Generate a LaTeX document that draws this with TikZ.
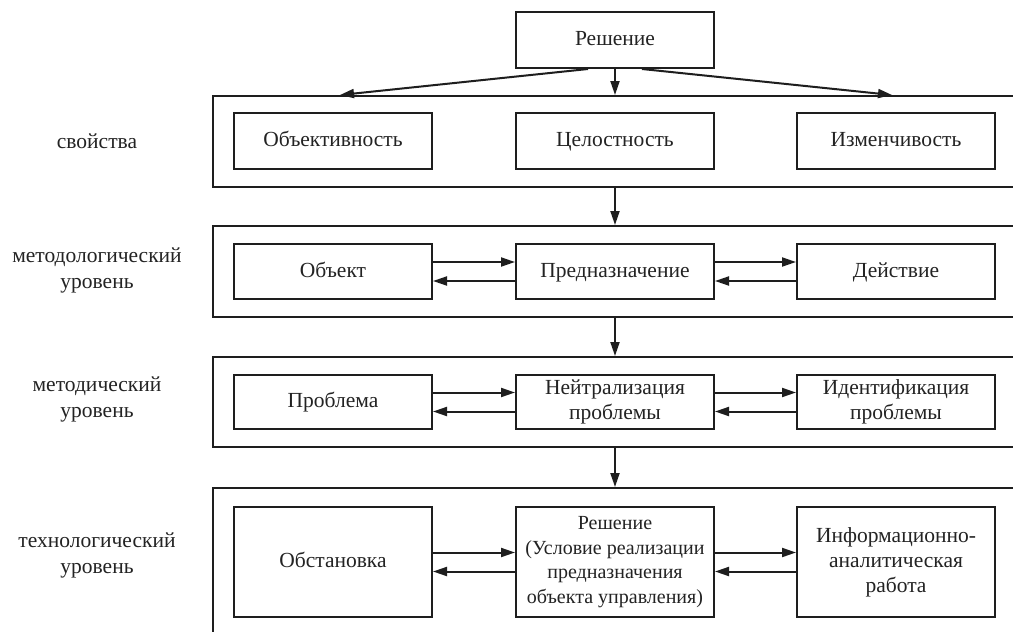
\documentclass[tikz,border=0pt]{standalone}
\usepackage{fontspec}
\setmainfont{Liberation Serif}
\usetikzlibrary{
    arrows.meta,
    positioning,
    calc
}
\definecolor{lineBlack}{RGB}{30, 30, 30}
\definecolor{textBlack}{RGB}{35, 35, 35}
\definecolor{bgWhite}{RGB}{255, 255, 255}
\tikzset{
    levelBox/.style={
        rectangle,
        draw=lineBlack,
        line width=2pt,
        fill=none,
        minimum width=804pt,
        inner sep=0pt
    },
    itemBox/.style={
        rectangle,
        draw=lineBlack,
        line width=2pt,
        fill=bgWhite,
        minimum width=198pt,
        minimum height=55pt,
        text=textBlack,
        align=center,
        inner sep=1pt,
        font=\fontsize{21.5}{25}\selectfont
    },
    oneLine/.style={
        text height=16pt,
        text depth=5pt
    },
    levelLabel/.style={
        text=textBlack,
        align=center,
        font=\fontsize{21.5}{26}\selectfont
    },
    flowArrow/.style={
        line width=2pt,
        draw=lineBlack,
        -{Triangle[length=14pt,width=9pt]}
    }
}

\begin{document}
\begin{tikzpicture}[x=1pt, y=-1pt]
    \useasboundingbox (0,0) rectangle (1013,632);
    \fill[bgWhite] (0,0) rectangle (1013,632);

    % Top node
    \node[itemBox, oneLine, minimum height=56pt] (reshenie) at (615, 40) {Решение};

    % Level containers
    \node[levelBox, minimum height=91pt] (svoistva) at (615, 141.5) {};
    \node[levelBox, minimum height=91pt] (metodol) at (615, 271.5) {};
    \node[levelBox, minimum height=90pt] (metod) at (615, 402) {};
    \node[levelBox, minimum height=162pt] (tehnol) at (615, 569) {};

    % Level labels
    \node[levelLabel] (lblSvoistva) at (97, 141.5) {свойства};
    \node[levelLabel] (lblMetodol) at (97, 270) {методологический\\уровень};
    \node[levelLabel] (lblMetod) at (97, 399) {методический\\уровень};
    \node[levelLabel] (lblTehnol) at (97, 555) {технологический\\уровень};

    % 1. Properties
    \node[itemBox, oneLine, minimum height=56pt] (obj) at (333, 141) {Объективность};
    \node[itemBox, oneLine, minimum height=56pt] (cel) at (615, 141) {Целостность};
    \node[itemBox, oneLine, minimum height=56pt] (izm) at (896, 141) {Изменчивость};

    % 2. Methodological level
    \node[itemBox, oneLine] (obekt) at (333, 271.5) {Объект};
    \node[itemBox, oneLine] (prednazn) at (615, 271.5) {Предназначение};
    \node[itemBox, oneLine] (deistv) at (896, 271.5) {Действие};

    % 3. Methodical level
    \node[itemBox, oneLine, minimum height=54pt] (problema) at (333, 402) {Проблема};
    \node[itemBox, minimum height=54pt] (neitr) at (615, 402) {Нейтрализация\\проблемы};
    \node[itemBox, minimum height=54pt] (ident) at (896, 402) {Идентификация\\проблемы};

    % 4. Technological level
    \node[itemBox, oneLine, minimum height=110pt] (obstan) at (333, 562) {Обстановка};
    \node[itemBox, minimum height=110pt, font=\fontsize{20}{24.5}\selectfont] (reshUsl) at (615, 562) {Решение\\(Условие реализации\\предназначения\\объекта управления)};
    \node[itemBox, minimum height=110pt] (infan) at (896, 562) {Информационно-\\аналитическая\\работа};

    % Connections from the top
    \draw[flowArrow] ([xshift=-27pt]reshenie.south) -- ([xshift=7pt]svoistva.north -| obj.center);
    \draw[flowArrow] (reshenie.south) -- (svoistva.north);
    \draw[flowArrow] ([xshift=27pt]reshenie.south) -- ([xshift=-4pt]svoistva.north -| izm.center);

    % Between levels
    \draw[flowArrow] (svoistva) -- (metodol);
    \draw[flowArrow] (metodol) -- (metod);
    \draw[flowArrow] (metod) -- (tehnol);

    % Two-way links inside levels
    \foreach \a/\b in {obekt/prednazn, prednazn/deistv, problema/neitr, neitr/ident, obstan/reshUsl, reshUsl/infan} {
        \draw[flowArrow] ([yshift=9.5pt]\a.east) -- ([yshift=9.5pt]\b.west);
        \draw[flowArrow] ([yshift=-9.5pt]\b.west) -- ([yshift=-9.5pt]\a.east);
    }
\end{tikzpicture}
\end{document}
